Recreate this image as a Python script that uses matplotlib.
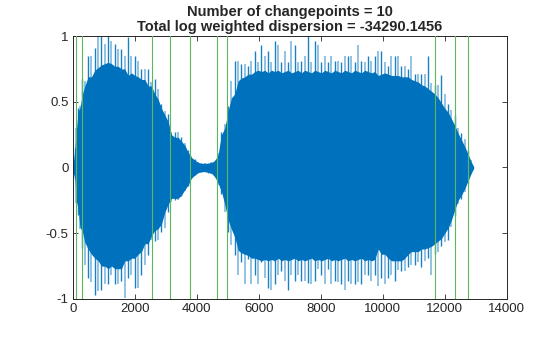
import matplotlib
matplotlib.use("Agg")
import matplotlib.pyplot as plt
import numpy as np

plt.rcParams['font.family'] = ['Liberation Sans', 'DejaVu Sans']

# ---- data ----
title_lines = ["Number of changepoints = 10",
               "Total log weighted dispersion = -34290.1456"]

changepoints = [97, 300, 2539, 3129, 3784, 4645, 4977, 11677, 12323, 12752]

# sample positions of envelope readings
env_x = [0, 65, 118, 172, 226, 312, 387, 495, 602, 710, 817, 925, 1032, 1140,
         1247, 1355, 1462, 1570, 1677, 1785, 1892, 2000, 2107, 2215, 2322,
         2430, 2537, 2645, 2752, 2860, 2967, 3075, 3182, 3290, 3397, 3505,
         3612, 3720, 3827, 3935, 4042, 4150, 4257, 4365, 4472, 4580, 4687,
         4795, 4902, 5010, 5117, 5225,
         5334, 5441, 5549, 5656, 5764, 5871, 5979, 6086, 6194, 6301, 6409,
         6516, 6624, 6731, 6839, 6946, 7054, 7161, 7269, 7376, 7484, 7591,
         7699, 7806, 7914, 8021, 8129, 8236, 8344, 8451, 8559, 8666, 8774,
         8881, 8989, 9096, 9204, 9311, 9419, 9526, 9634, 9741,
         9850, 9958, 10065, 10173, 10280, 10388, 10495, 10603, 10710, 10818,
         10925, 11033, 11140, 11248, 11355, 11463, 11570, 11678, 11785, 11893,
         12000, 12108, 12215, 12323, 12430, 12538, 12645, 12753, 12860, 12925]

# dense (solid) part of the signal, upper side
upper_core = [0.0, 0.14, 0.29, 0.43, 0.45, 0.56, 0.62, 0.69, 0.69, 0.74, 0.76,
              0.78, 0.79, 0.80, 0.79, 0.77, 0.77, 0.75, 0.75, 0.70, 0.72, 0.70,
              0.69, 0.67, 0.67, 0.62, 0.62, 0.56, 0.52, 0.45, 0.40, 0.35,
              0.25, 0.23, 0.23, 0.20, 0.17, 0.115, 0.077, 0.057, 0.039, 0.032,
              0.032, 0.032, 0.039, 0.052, 0.10, 0.25, 0.30, 0.43, 0.53, 0.56,
              0.66, 0.68, 0.69, 0.71, 0.71, 0.73, 0.74, 0.73, 0.74, 0.72, 0.74,
              0.73, 0.74, 0.72, 0.73, 0.74, 0.72, 0.73, 0.74, 0.72, 0.74, 0.73,
              0.72, 0.74, 0.73, 0.72, 0.74, 0.73, 0.72, 0.74, 0.73, 0.72, 0.74,
              0.73, 0.72, 0.74, 0.73, 0.72, 0.74, 0.73, 0.72, 0.73,
              0.70, 0.71, 0.72, 0.71, 0.70, 0.70, 0.70, 0.69, 0.69, 0.69, 0.67,
              0.66, 0.65, 0.63, 0.62, 0.60, 0.58, 0.56, 0.53, 0.49, 0.45, 0.42,
              0.37, 0.32, 0.26, 0.21, 0.16, 0.10, 0.04, 0.01]

# highest spikes near each reading, upper side
upper_peak = [0.03, 0.15, 0.30, 0.45, 0.47, 0.67, 0.66, 0.85, 0.85, 0.91, 1.0,
              1.0, 0.94, 1.0, 0.96, 0.94, 0.90, 0.90, 0.85, 0.99, 0.85, 0.85,
              0.81, 0.75, 0.75, 0.75, 0.65, 0.67, 0.60, 0.48, 0.43, 0.41, 0.27,
              0.27, 0.27, 0.23, 0.19, 0.13, 0.09, 0.065, 0.045, 0.036, 0.036,
              0.036, 0.045, 0.06, 0.11, 0.27, 0.33, 0.47, 0.66, 0.81,
              0.81, 0.79, 0.79, 0.77, 0.81, 0.89, 0.80, 0.93, 0.85, 0.89, 0.80,
              0.96, 0.93, 0.80, 0.89, 0.80, 0.96, 0.93, 0.80, 0.81, 0.85, 1.0,
              0.80, 0.96, 0.93, 0.80, 0.85, 0.80, 0.85, 0.81, 0.81, 0.80, 0.85,
              0.85, 0.85, 0.80, 0.93, 0.81, 0.80, 0.85, 0.81, 0.85,
              0.89, 0.89, 0.80, 0.77, 0.85, 0.85, 0.85, 0.77, 0.77, 0.75, 0.85,
              0.71, 0.71, 0.71, 0.71, 0.85, 0.64, 0.63, 0.63, 0.70, 0.56, 0.48,
              0.44, 0.40, 0.30, 0.26, 0.22, 0.13, 0.06, 0.01]

# dense part, lower side
lower_core = [-0.03, -0.08, -0.26, -0.31, -0.45, -0.49, -0.57, -0.62, -0.66,
              -0.69, -0.71, -0.75, -0.75, -0.77, -0.75, -0.77, -0.77, -0.77,
              -0.71, -0.71, -0.69, -0.69, -0.66, -0.64, -0.58, -0.58, -0.52,
              -0.48, -0.465, -0.43, -0.34, -0.28, -0.235, -0.235, -0.235,
              -0.21, -0.17, -0.133, -0.082, -0.057, -0.04, -0.032, -0.032,
              -0.037, -0.044, -0.07, -0.12, -0.184, -0.28, -0.40, -0.47,
              -0.53,
              -0.63, -0.65, -0.66, -0.67, -0.69, -0.69, -0.70, -0.71, -0.70,
              -0.71, -0.70, -0.71, -0.69, -0.71, -0.70, -0.71, -0.70, -0.69,
              -0.71, -0.70, -0.71, -0.70, -0.69, -0.71, -0.70, -0.71, -0.70,
              -0.69, -0.71, -0.70, -0.71, -0.70, -0.69, -0.71, -0.70, -0.71,
              -0.70, -0.69, -0.71, -0.70, -0.71, -0.70,
              -0.62, -0.66, -0.66, -0.69, -0.71, -0.71, -0.71, -0.71, -0.69,
              -0.66, -0.64, -0.64, -0.64, -0.62, -0.62, -0.61, -0.60, -0.58,
              -0.56, -0.54, -0.50, -0.46, -0.40, -0.32, -0.25, -0.21, -0.16,
              -0.10, -0.04, -0.01]

# deepest spikes near each reading, lower side
lower_peak = [-0.05, -0.09, -0.27, -0.36, -0.47, -0.615, -0.74, -0.84, -0.87,
              -0.97, -0.94, -0.93, -0.89, -0.89, -0.82, -0.89, -0.89, -0.86,
              -0.995, -0.84, -0.82, -0.92, -0.92, -0.82, -0.74, -0.665, -0.55,
              -0.56, -0.55, -0.49, -0.46, -0.34, -0.26, -0.25, -0.25, -0.22,
              -0.18, -0.14, -0.09, -0.06, -0.045, -0.036, -0.036, -0.04,
              -0.048, -0.075, -0.13, -0.20, -0.34, -0.49, -0.59, -0.665,
              -0.82, -0.72, -0.89, -0.70, -0.89, -0.82, -0.89, -0.72, -0.84,
              -0.92, -0.93, -0.89, -0.82, -0.79, -0.86, -0.93, -0.82, -0.86,
              -0.82, -0.86, -0.86, -0.88, -0.89, -0.86, -0.77, -0.82, -0.89,
              -0.77, -0.89, -0.86, -0.87, -0.89, -0.93, -0.86, -0.89, -0.89,
              -0.87, -0.89, -0.82, -0.82, -0.86, -0.82,
              -0.90, -0.84, -0.89, -0.84, -0.82, -0.86, -0.78, -0.79, -0.79,
              -0.76, -0.74, -0.74, -0.72, -0.76, -0.71, -0.69, -0.82, -0.66,
              -0.64, -0.60, -0.57, -0.55, -0.45, -0.37, -0.28, -0.24, -0.19,
              -0.12, -0.05, -0.01]

x_ticks = [0, 2000, 4000, 6000, 8000, 10000, 12000, 14000]
y_ticks = [-1, -0.5, 0, 0.5, 1]
y_ticklabels = ["-1", "-0.5", "0", "0.5", "1"]

# ---- drawing ----
blue = "#0072BD"
green = "#5CB85C"

fig = plt.figure(figsize=(5.6, 3.37), dpi=100)
ax = fig.add_axes([0.13, 0.113, 0.775, 0.78])

ax.fill_between(env_x, lower_core, upper_core, color=blue, lw=0, zorder=2)
ax.vlines(env_x[0::2], lower_peak[0::2], upper_peak[0::2], color=blue,
          lw=1.2, alpha=0.5, zorder=2)
ax.vlines(env_x[1::2], lower_peak[1::2], upper_peak[1::2], color=blue,
          lw=1.0, alpha=0.9, zorder=2)

for cp in changepoints:
    ax.axvline(cp, color=green, lw=0.8, zorder=3)

ax.set_xlim(0, 14000)
ax.set_ylim(-1, 1)
ax.set_xticks(x_ticks)
ax.set_xticklabels([str(t) for t in x_ticks])
ax.set_yticks(y_ticks)
ax.set_yticklabels(y_ticklabels)
ax.tick_params(direction='in', length=3.5, width=0.6, top=True, right=True,
               labelsize=9.5, colors='#262626', pad=3)
for s in ax.spines.values():
    s.set_linewidth(0.7)
    s.set_color('#262626')

ax.set_title("\n".join(title_lines), fontsize=10.5, fontweight='bold',
             color='#262626', linespacing=1.05, pad=4)

fig.savefig("out.png", dpi=100)
